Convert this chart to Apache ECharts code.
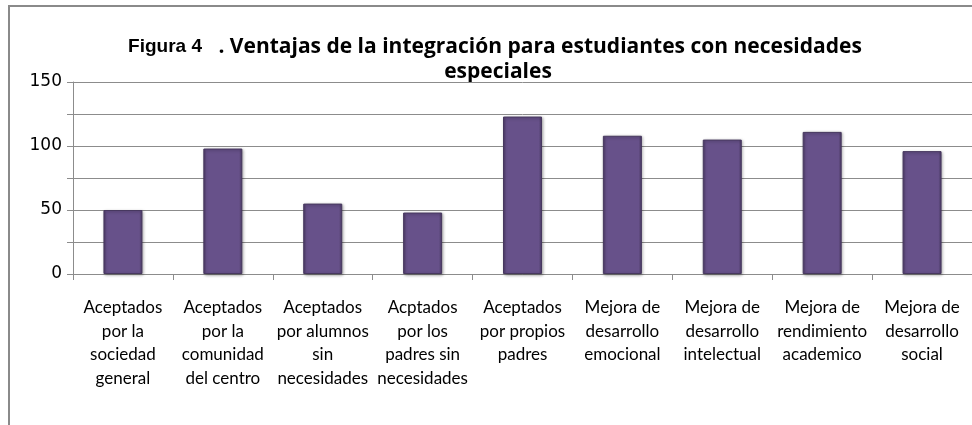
<!DOCTYPE html>
<html><head><meta charset="utf-8">
<script src="https://cdn.jsdelivr.net/npm/echarts@6/dist/echarts.min.js"></script>
<style>html,body{margin:0;padding:0;background:#fff}#c{width:972px;height:425px}</style>
</head><body><div id="c"></div>
<script>
const categories = [
  "Aceptados\npor la\nsociedad\ngeneral",
  "Aceptados\npor la\ncomunidad\ndel centro",
  "Aceptados\npor alumnos\nsin\nnecesidades",
  "Acptados\npor los\npadres sin\nnecesidades",
  "Aceptados\npor propios\npadres",
  "Mejora de\ndesarrollo\nemocional",
  "Mejora de\ndesarrollo\nintelectual",
  "Mejora de\nrendimiento\nacademico",
  "Mejora de\ndesarrollo\nsocial"
];
const values = [50, 98, 55, 48, 123, 108, 105, 111, 96];
const yTicks = [0, 50, 100, 150];
const titleLine1a = "Figura 4";
const titleLine1b = "   . Ventajas de la integración para estudiantes con necesidades";
const titleLine2 = "especiales";

const chart = echarts.init(document.getElementById('c'), null, {renderer:'canvas'});
chart.setOption({
  animation: false,
  backgroundColor: '#fff',
  graphic: [
    {type:'line', shape:{x1:9, y1:6, x2:972, y2:6}, style:{stroke:'#8a8a8a', lineWidth:2}, z:0},
    {type:'line', shape:{x1:9, y1:5, x2:9, y2:425}, style:{stroke:'#8a8a8a', lineWidth:2}, z:0},
    {type:'text', x:495, y:47, style:{text:'{a|'+titleLine1a+'}{b|'+titleLine1b+'}', align:'center', verticalAlign:'middle',
      rich:{a:{fontFamily:'Liberation Sans', fontWeight:'bold', fontSize:19, fill:'#000', color:'#000'},
            b:{fontFamily:'Open Sans', fontWeight:'bold', fontSize:21, fill:'#000', color:'#000'}}}},
    {type:'text', x:498, y:72, style:{text:titleLine2, align:'center', verticalAlign:'middle', fontFamily:'Open Sans', fontWeight:'bold', fontSize:21, fill:'#000'}}
  ],
  grid: {left:73, right:-10, top:82, bottom:151, containLabel:false},
  xAxis: {
    type:'category', data: categories,
    axisLine:{show:true, lineStyle:{color:'#8c8c8c', width:1}},
    axisTick:{show:true, length:6, lineStyle:{color:'#8c8c8c'}},
    axisLabel:{interval:0, color:'#000', fontFamily:'Lato', fontSize:17, lineHeight:23.5, margin:22},
    splitLine:{show:false}
  },
  yAxis: {
    type:'value', min:0, max:150, interval:25,
    axisLine:{show:true, lineStyle:{color:'#8c8c8c', width:1}},
    axisTick:{show:true, length:6, lineStyle:{color:'#8c8c8c'}},
    axisLabel:{color:'#000', fontFamily:'DejaVu Sans', fontSize:17, margin:11,
      formatter: v => yTicks.indexOf(v) >= 0 ? String(v) : ''},
    splitLine:{show:true, lineStyle:{color:'#8c8c8c', width:1}}
  },
  series: [{
    type:'bar', data: values, barWidth:39,
    itemStyle:{
      color: new echarts.graphic.LinearGradient(0,0,1,0,[
        {offset:0, color:'#4f3d6a'},{offset:0.08, color:'#67518a'},{offset:0.92, color:'#67518a'},{offset:1, color:'#4a3a63'}]),
      borderColor:'#47385f', borderWidth:1,
      shadowColor:'rgba(0,0,0,0.35)', shadowBlur:3, shadowOffsetX:1, shadowOffsetY:1
    }
  }]
});
</script></body></html>
